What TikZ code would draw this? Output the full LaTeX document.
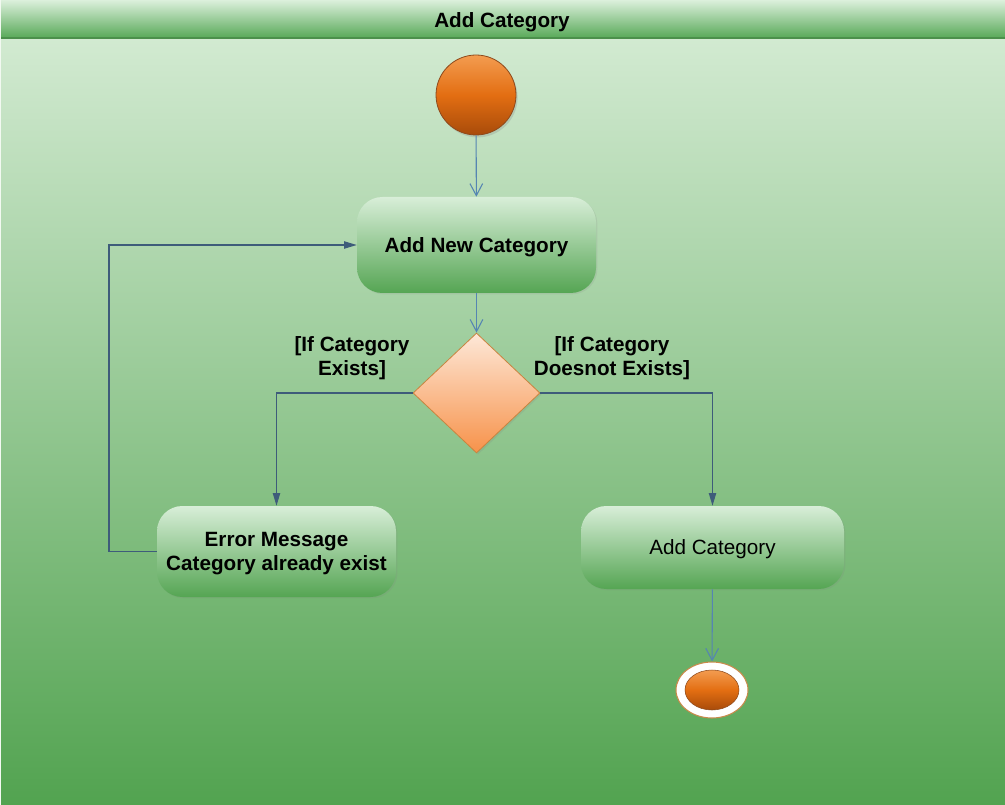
\documentclass[tikz,border=0pt]{standalone}
\usepackage{fontspec}
\setmainfont{Liberation Sans}
\usetikzlibrary{shapes.geometric,arrows.meta,shadows}
\definecolor{bgtop}{HTML}{D2EAD1}
\definecolor{bgbot}{HTML}{52A350}
\definecolor{titletop}{HTML}{DCF0DC}
\definecolor{titlebot}{HTML}{58A958}
\definecolor{nodetop}{HTML}{D8EED8}
\definecolor{nodebot}{HTML}{55A553}
\definecolor{orgtop}{HTML}{F39C50}
\definecolor{orgmid}{HTML}{E36E12}
\definecolor{orgbot}{HTML}{A84B0A}
\definecolor{orgline}{HTML}{8E4A1C}
\definecolor{dtop}{HTML}{FDE8D8}
\definecolor{dbot}{HTML}{F7924A}
\definecolor{dline}{HTML}{C8843F}
\definecolor{edgedark}{HTML}{3E5C7A}
\definecolor{edgelight}{HTML}{5585B2}
\definecolor{endline}{HTML}{C88A4A}
\begin{document}
\begin{tikzpicture}[x=0.75pt,y=-0.75pt,
  txt/.style={font=\fontsize{15.5pt}{18pt}\selectfont},
  btxt/.style={font=\fontsize{15.5pt}{18pt}\selectfont\bfseries},
  actbox/.style={rectangle, rounded corners=19pt, top color=nodetop, bottom color=nodebot,
     draw=none, inner sep=0pt, align=center, text depth=0pt,
     drop shadow={opacity=0.15, shadow xshift=1pt, shadow yshift=-1pt}},
  openarr/.style={draw=edgelight, line width=0.8pt, -{Straight Barb[length=9pt,width=9.5pt,line width=0.8pt]}},
  fillarr/.style={draw=edgedark, line width=0.8pt, -{Triangle[length=9.5pt,width=5.5pt]}},
  plainline/.style={draw=edgedark, line width=0.8pt}
]
\useasboundingbox (0,0) rectangle (1005,805);
% background
\shade[top color=bgtop, bottom color=bgbot] (0,38) rectangle (1005,805);
\shade[top color=titletop, bottom color=titlebot] (0,0) rectangle (1005,38);
\draw[line width=0.8pt, draw=titlebot!85!black] (0,38) -- (1005,38);
\draw[line width=0.8pt, draw=white!70!bgtop] (0.6,0) -- (0.6,805);
\node[btxt] (title) at (502,22.5) {Add Category};

% nodes
\node[circle, minimum size=60pt, inner sep=0pt, top color=orgtop, bottom color=orgbot,
      middle color=orgmid, draw=orgline, line width=0.6pt,
      drop shadow={opacity=0.25, shadow xshift=1.2pt, shadow yshift=-1.8pt}] (start) at (476,95) {};
\node[actbox, btxt, minimum width=179.25pt, minimum height=72pt] (addnew) at (476.5,245) {Add New Category};
\node[diamond, minimum width=95.25pt, minimum height=90pt, inner sep=0pt,
      top color=dtop, bottom color=dbot, draw=dline, line width=0.6pt,
      drop shadow={opacity=0.18, shadow xshift=1.2pt, shadow yshift=-1.2pt}] (dec) at (476.5,393) {};
\node[actbox, btxt, minimum width=179.25pt, minimum height=68.25pt] (err) at (276.5,551.5) {Error Message\\Category already exist};
\node[actbox, txt, minimum width=197.25pt, minimum height=62.25pt] (addcat) at (712.5,547.5) {Add Category};
\node[ellipse, minimum width=54pt, minimum height=42pt, inner sep=0pt, fill=white,
      draw=endline, line width=0.8pt] (endo) at (712,690) {};
\node[ellipse, minimum width=40.5pt, minimum height=30pt, inner sep=0pt,
      top color=orgtop, bottom color=orgbot, middle color=orgmid, draw=orgline, line width=0.4pt] (endi) at (712,690) {};

% guard labels
\node[btxt, align=center] (gl) at (352,358) {[If Category\\Exists]};
\node[btxt, align=center] (gr) at (612,358) {[If Category\\Doesnot Exists]};

% connectors
\coordinate (loop) at (109,551.5);
\draw[openarr] (start) -- (addnew);
\draw[openarr] (addnew) -- (dec);
\draw[fillarr] (dec.west) -| (err.north);
\draw[fillarr] (dec.east) -| (addcat.north);
\draw[fillarr] (err.west) -- (loop) |- (addnew.west);
\draw[openarr] (addcat) -- (endo);
\end{tikzpicture}
\end{document}
